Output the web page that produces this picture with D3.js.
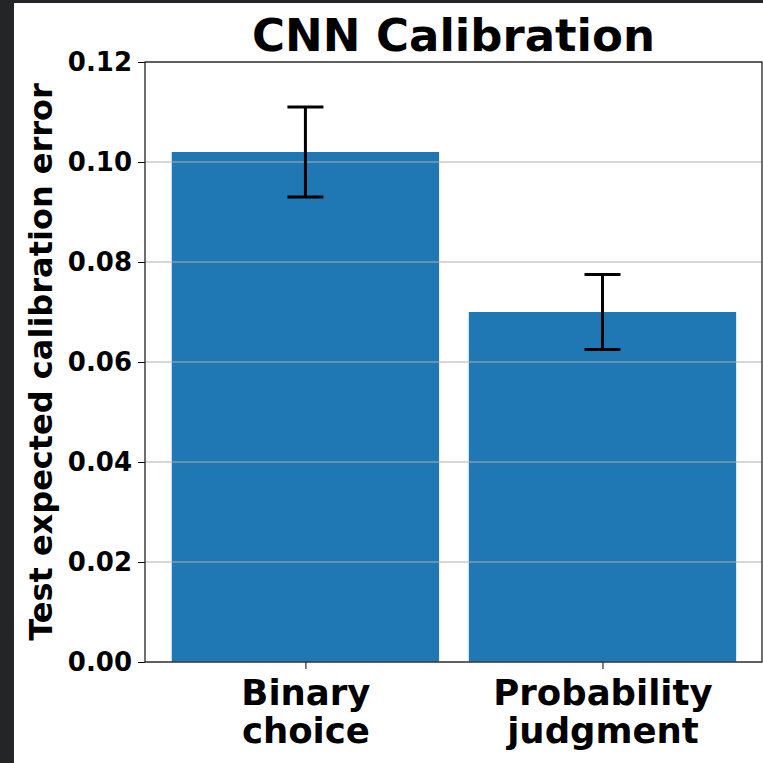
<!DOCTYPE html>
<html>
<head>
<meta charset="utf-8">
<script src="https://cdn.jsdelivr.net/npm/d3@7"></script>
<style>
  html, body { margin: 0; padding: 0; background: #fff; }
  svg { display: block; }
  text { font-family: "DejaVu Sans", sans-serif; font-weight: bold; }
</style>
</head>
<body>
<div id="chart-area"></div>
<script>
// data
const categories = [["Binary", "choice"], ["Probability", "judgment"]]
const values = [0.102, 0.070]
const errors = [0.009, 0.0075]
const yTicks = [0, 0.02, 0.04, 0.06, 0.08, 0.10, 0.12]

const W = 763, H = 763
const margin = {top: 62, right: 1, bottom: 101, left: 145},
      width = W - margin.left - margin.right,
      height = H - margin.top - margin.bottom

const svg = d3.select('#chart-area').append('svg')
  .attr('width', W)
  .attr('height', H)

// dark frame strips of the screenshot
svg.append('rect').attr('x', 0).attr('y', 0).attr('width', 14).attr('height', H).attr('fill', '#242526')
svg.append('rect').attr('x', 0).attr('y', 0).attr('width', W).attr('height', 3).attr('fill', '#242526')

const g = svg.append('g')
  .attr("transform", `translate(${margin.left}, ${margin.top})`)

const idx = d3.range(values.length)
const x = d3.scaleLinear().domain([-0.54, values.length - 1 + 0.537]).range([0, width])
const y = d3.scaleLinear().domain([0, 0.12]).range([height, 0])
const barW = x(0.9) - x(0)

// bars
g.selectAll('rect.bar').data(idx).enter().append('rect')
  .attr('class', 'bar')
  .attr('x', i => x(i) - barW / 2)
  .attr('y', i => y(values[i]))
  .attr('width', barW)
  .attr('height', i => height - y(values[i]))
  .attr('fill', '#1f77b4')

// grid on top of bars
g.selectAll('line.grid').data(yTicks).enter().append('line')
  .attr('class', 'grid')
  .attr('x1', 0).attr('x2', width)
  .attr('y1', d => y(d)).attr('y2', d => y(d))
  .attr('stroke', '#b0b0b0').attr('stroke-width', 1)

// error bars
const cap = 18
idx.forEach(i => {
  const cx = x(i)
  const lo = y(values[i] - errors[i]), hi = y(values[i] + errors[i])
  g.append('line').attr('x1', cx).attr('x2', cx).attr('y1', lo).attr('y2', hi)
    .attr('stroke', '#000').attr('stroke-width', 3)
  ;[lo, hi].forEach(v => {
    g.append('line').attr('x1', cx - cap).attr('x2', cx + cap).attr('y1', v).attr('y2', v)
      .attr('stroke', '#000').attr('stroke-width', 3)
  })
})

// y axis
const yAxis = g.append('g')
  .call(d3.axisLeft(y).tickValues(yTicks).tickFormat(d3.format('.2f')).tickSize(7).tickPadding(6))
yAxis.selectAll('text').attr('font-size', 26).attr('fill', '#000')
  .style('font-family', '"DejaVu Sans", sans-serif').style('font-weight', 'bold')
yAxis.select('.domain').remove()

// x axis
const xAxis = g.append('g')
  .attr('transform', `translate(0, ${height})`)
  .call(d3.axisBottom(x).tickValues(idx).tickFormat('').tickSize(7))
xAxis.select('.domain').remove()

xAxis.selectAll('g.tick').append('text')
  .attr('fill', '#000').attr('font-size', 35.5).attr('text-anchor', 'middle')
  .selectAll('tspan').data(i => categories[i]).enter().append('tspan')
  .attr('x', 0)
  .attr('y', (d, j) => 43 + j * 38)
  .text(d => d)

// spines
g.append('rect').attr('x', 0).attr('y', 0).attr('width', width).attr('height', height)
  .attr('fill', 'none').attr('stroke', '#222').attr('stroke-width', 1.3)

// title
svg.append('text')
  .attr('x', margin.left + width / 2).attr('y', 51)
  .attr('text-anchor', 'middle').attr('font-size', 45)
  .text('CNN Calibration')

// y label
svg.append('text')
  .attr('transform', `translate(52, ${margin.top + height / 2}) rotate(-90)`)
  .attr('text-anchor', 'middle').attr('font-size', 32)
  .text('Test expected calibration error')
</script>
</body>
</html>
